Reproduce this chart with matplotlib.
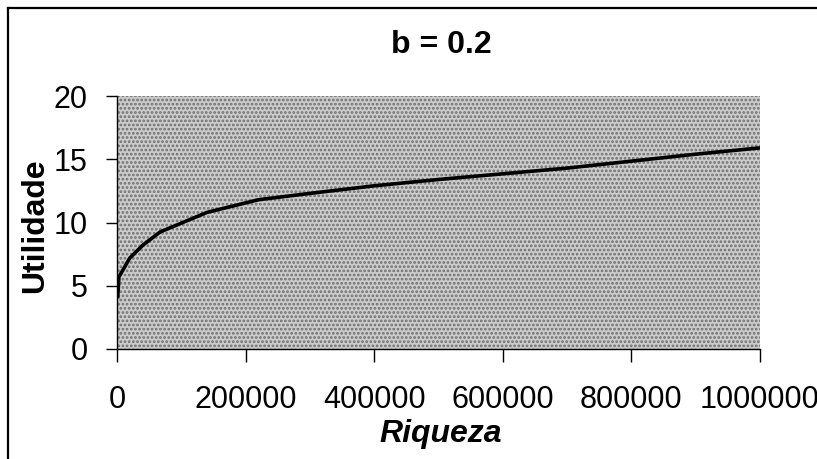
import matplotlib.pyplot as plt
from matplotlib.lines import Line2D
from matplotlib.patches import Rectangle

# riqueza (x) e utilidade (y)
riqueza = [1000, 3000, 20000, 40000, 67000, 100000, 140000, 180000,
           220000, 260000, 300000, 350000, 400000, 450000, 500000,
           600000, 700000, 800000, 900000, 1000000]
utilidade = [4.0, 5.7, 7.2, 8.2, 9.25, 9.95, 10.8, 11.3, 11.8, 12.05,
             12.3, 12.6, 12.9, 13.15, 13.4, 13.85, 14.3, 14.85, 15.4, 15.9]
xticks = [0, 200000, 400000, 600000, 800000, 1000000]
yticks = [0, 5, 10, 15, 20]

plt.rcParams['font.family'] = ['Liberation Sans', 'DejaVu Sans']
plt.rcParams['hatch.linewidth'] = 1.3

fig = plt.figure(figsize=(8.17, 4.59), dpi=100, facecolor='white')

# moldura externa (so lados esquerdo e superior aparecem)
fx = 8/817
fy = 1 - 8/459
fig.add_artist(Line2D([fx, fx], [0, fy], transform=fig.transFigure,
                      color='black', linewidth=1.6))
fig.add_artist(Line2D([fx, 1], [fy, fy], transform=fig.transFigure,
                      color='black', linewidth=1.6))

ax = fig.add_axes([117/817, 110/459, 643/817, 253/459])
ax.set_facecolor('#cbcbcb')
# fundo pontilhado
ax.add_patch(Rectangle((0, 0), 1, 1, transform=ax.transAxes, facecolor='none',
                       edgecolor='#6e6e6e', hatch='....', linewidth=0, zorder=0))
ax.plot(riqueza, utilidade, color='black', linewidth=2.6, solid_capstyle='butt',
        zorder=3)

ax.set_xlim(0, 1000000)
ax.set_ylim(0, 20)
ax.set_xticks(xticks)
ax.set_xticklabels([str(v) for v in xticks])
ax.set_yticks(yticks)
ax.tick_params(axis='x', direction='out', length=9, width=1, pad=17, labelsize=22)
ax.tick_params(axis='y', direction='out', length=8, width=1, pad=13, labelsize=22)

for s in ['top', 'right']:
    ax.spines[s].set_visible(False)
for s in ['left', 'bottom']:
    ax.spines[s].set_linewidth(1)

fig.text(441/817, 1 - 45/459, 'b = 0.2', ha='center', va='center',
         fontsize=23, fontweight='bold')
fig.text(441/817, 1 - 434/459, 'Riqueza', ha='center', va='center',
         fontsize=23, fontweight='bold', style='italic')
fig.text(35/817, 1 - 226/459, 'Utilidade', ha='center', va='center',
         rotation=90, fontsize=23, fontweight='bold')

fig.savefig('out.png', dpi=100)
